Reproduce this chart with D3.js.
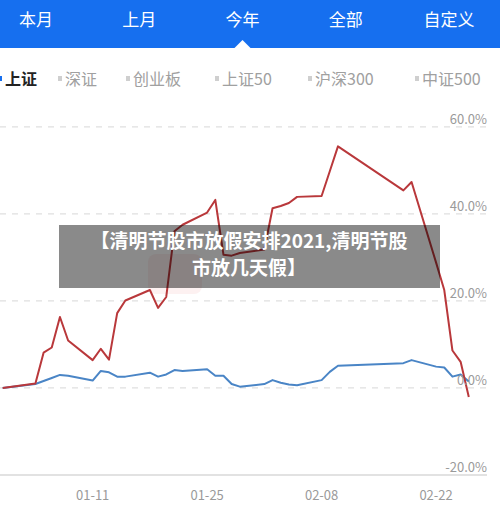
<!DOCTYPE html>
<html><head><meta charset="utf-8">
<script src="https://cdn.jsdelivr.net/npm/d3@7"></script>
<style>
html,body{margin:0;padding:0;background:#fff;}
svg{display:block;font-family:"Noto Sans CJK SC","Noto Sans",sans-serif;}
</style></head>
<body><svg id="c" width="500" height="513"></svg>
<script>
const tabs = ["本月","上月","今年","全部","自定义"];
const legendItems = ["上证","深证","创业板","上证50","沪深300","中证500"];
const dates = ["2020-12-31","2021-01-04","2021-01-05","2021-01-06","2021-01-07","2021-01-08",
"2021-01-11","2021-01-12","2021-01-13","2021-01-14","2021-01-15",
"2021-01-18","2021-01-19","2021-01-20","2021-01-21","2021-01-22",
"2021-01-25","2021-01-26","2021-01-27","2021-01-28","2021-01-29",
"2021-02-01","2021-02-02","2021-02-03","2021-02-04","2021-02-05",
"2021-02-08","2021-02-09","2021-02-10","2021-02-18","2021-02-19",
"2021-02-22","2021-02-23","2021-02-24","2021-02-25","2021-02-26"];
const stockValues = [0,1.0,8.1,9.3,16.3,10.9,
6.4,9.0,6.5,17.2,20.1,
22.5,18.4,20.9,36.0,37.5,
40.3,43.2,30.6,30.4,31.0,
31.8,41.3,41.8,42.5,43.9,
44.1,49.8,55.5,45.4,47.3,
28.8,22.5,8.6,6.0,-2.1];
const indexValues = [0,0.9,1.6,2.3,3.0,2.8,
1.7,3.9,3.6,2.6,2.6,
3.5,2.6,3.1,4.1,3.9,
4.3,2.8,2.8,0.9,0.3,
0.9,1.8,1.2,0.8,0.6,
1.8,3.7,5.1,5.7,6.4,
4.9,4.7,2.6,3.1,1.5];
const xTickDates = ["2021-01-11","2021-01-25","2021-02-08","2021-02-22"];
const yTicks = [-20,0,20,40,60];
const overlayLines = ["【清明节股市放假安排2021,清明节股","市放几天假】"];

const svg = d3.select("#c");
const parse = d3.utcParse("%Y-%m-%d");
const pts = dates.map((d,i)=>({t:parse(d), s:stockValues[i], b:indexValues[i]}));

// header
svg.append("rect").attr("x",0).attr("y",0).attr("width",500).attr("height",48).attr("fill","#166fef");
const tabX = d3.scalePoint().domain(tabs).range([36,449]);
svg.selectAll("text.tab").data(tabs).join("text").attr("class","tab")
  .attr("x",d=>tabX(d)).attr("y",26).attr("text-anchor","middle")
  .attr("fill","#fff").attr("font-size",17).text(d=>d);
const cx = tabX("今年");
svg.append("path").attr("d",`M${cx-8},48L${cx},40L${cx+8},48Z`).attr("fill","#fff");

// legend
const legX = [5,65,133,222,315,422];
const lg = svg.append("g");
legendItems.forEach((name,i)=>{
  const active = i===0;
  lg.append("rect").attr("x",legX[i]-7).attr("y",76).attr("width",4).attr("height",5)
    .attr("fill",active?"#166fef":"#cfcfcf");
  lg.append("text").attr("x",legX[i]).attr("y",85).attr("font-size",16)
    .attr("font-weight",active?"bold":"normal")
    .attr("fill",active?"#222":"#a0a0a0").text(name);
});

// scales
const x = d3.scaleUtc().domain([parse("2020-12-31"),parse("2021-02-26")]).range([2.7,468.8]);
const y = d3.scaleLinear().domain([-20,60]).range([475,126.8]);

// grid
const grid = svg.append("g");
yTicks.forEach(v=>{
  if(v===-20){
    grid.append("line").attr("x1",0).attr("x2",487).attr("y1",y(v)).attr("y2",y(v))
      .attr("stroke","#d8d8d8").attr("stroke-width",1.5);
  } else {
    grid.append("line").attr("x1",0).attr("x2",487).attr("y1",y(v)).attr("y2",y(v))
      .attr("stroke","#e0e0e0").attr("stroke-width",1.2).attr("stroke-dasharray","6,6");
  }
});

// faint watermark
svg.append("rect").attr("x",148).attr("y",254).attr("width",54).attr("height",40).attr("rx",8)
  .attr("fill","#fdf1f1");

// lines
const lineS = d3.line().x(d=>x(d.t)).y(d=>y(d.s));
const lineB = d3.line().x(d=>x(d.t)).y(d=>y(d.b));
svg.append("path").datum(pts).attr("d",lineB).attr("fill","none")
  .attr("stroke","#4a85c6").attr("stroke-width",2).attr("stroke-linejoin","round");
svg.append("path").datum(pts).attr("d",lineS).attr("fill","none")
  .attr("stroke","#b9383b").attr("stroke-width",2).attr("stroke-linejoin","round");

// y labels
svg.selectAll("text.yl").data(yTicks).join("text").attr("class","yl")
  .attr("x",487).attr("y",d=>y(d)-3).attr("text-anchor","end")
  .attr("font-size",13).attr("fill","#9a9a9a").text(d=>d.toFixed(1)+"%");

// x axis labels
const fmt = d3.utcFormat("%m-%d");
svg.selectAll("text.xl").data(xTickDates.map(parse)).join("text").attr("class","xl")
  .attr("x",d=>x(d)).attr("y",500).attr("text-anchor","middle")
  .attr("font-size",13).attr("fill","#9a9a9a").text(d=>fmt(d));

// overlay
svg.append("rect").attr("x",59).attr("y",225).attr("width",381).attr("height",63)
  .attr("fill","rgba(0,0,0,0.46)");
overlayLines.forEach((t,i)=>{
  svg.append("text").attr("x",249).attr("y",248+i*27).attr("text-anchor","middle")
    .attr("font-size",19).attr("font-weight","bold").attr("fill","#fff").text(t);
});
</script></body></html>
